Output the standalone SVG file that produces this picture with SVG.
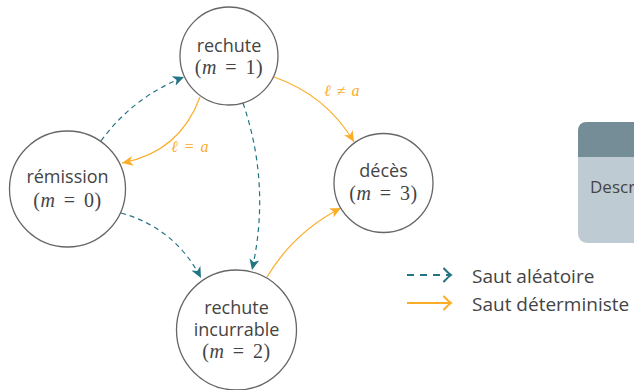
<svg xmlns="http://www.w3.org/2000/svg" width="634" height="390" viewBox="0 0 634 390">
<style>
.node circle{fill:#fff;stroke:#666;stroke-width:1.3}
.lbl{font-family:"Open Sans","Noto Sans",sans-serif;font-size:18px;fill:#444;text-anchor:middle}
.math{font-family:"Liberation Serif","DejaVu Serif",serif;font-size:20px;fill:#444;text-anchor:middle;letter-spacing:0.5px;word-spacing:3px}
.mi{font-style:italic}
.rand{fill:none;stroke:#237585;stroke-width:1.2;stroke-dasharray:5 4}
.det{fill:none;stroke:#fbad28;stroke-width:1.2}
.elbl{font-family:"Liberation Serif","DejaVu Serif",serif;font-size:16px;font-style:italic;fill:#fbad28;word-spacing:2px}
.leg{font-family:"Open Sans","Noto Sans",sans-serif;font-size:19px;fill:#444}
</style>
<defs>
<marker id="hT" markerUnits="userSpaceOnUse" markerWidth="12" markerHeight="10" refX="11" refY="5" orient="auto">
<path d="M0,0 L11,5 L0,10 L3,5 z" fill="#237585"/>
</marker>
<marker id="hO" markerUnits="userSpaceOnUse" markerWidth="12" markerHeight="10" refX="11" refY="5" orient="auto">
<path d="M0,0 L11,5 L0,10 L3,5 z" fill="#fbad28"/>
</marker>
<marker id="cT" markerUnits="userSpaceOnUse" markerWidth="10" markerHeight="16" refX="8" refY="8" orient="auto">
<path d="M1,1.5 Q5,6 8,8 Q5,10 1,14.5" fill="none" stroke="#237585" stroke-width="2" stroke-linecap="round"/>
</marker>
<marker id="cO" markerUnits="userSpaceOnUse" markerWidth="10" markerHeight="16" refX="8" refY="8" orient="auto">
<path d="M1,1.5 Q5,6 8,8 Q5,10 1,14.5" fill="none" stroke="#fbad28" stroke-width="2" stroke-linecap="round"/>
</marker>
</defs>

<g id="connectors">
<path class="rand" d="M101,141 Q133,97 184,77" marker-end="url(#hT)"/>
<path class="det" d="M200,97 Q180,152 122,163" marker-end="url(#hO)"/>
<path class="det" d="M274,77 Q326,95 354,142" marker-end="url(#hO)"/>
<path class="rand" d="M243,103 Q271,185 252,270" marker-end="url(#hT)"/>
<path class="rand" d="M121,213 Q175,228 201,278" marker-end="url(#hT)"/>
<path class="det" d="M267,277 Q294,232 341,208" marker-end="url(#hO)"/>
<text class="elbl" x="171" y="152">ℓ = a</text>
<text class="elbl" x="324" y="96">ℓ ≠ a</text>
</g>

<g id="rechute" class="node">
<circle cx="229" cy="56" r="49"/>
<text class="lbl" x="229" y="52">rechute</text>
<text class="math" x="229" y="74">(<tspan class="mi">m</tspan> = 1)</text>
</g>

<g id="remission" class="node">
<circle cx="67.5" cy="189" r="58"/>
<text class="lbl" x="67.5" y="183">rémission</text>
<text class="math" x="67.5" y="207">(<tspan class="mi">m</tspan> = 0)</text>
</g>

<g id="incurrable" class="node">
<circle cx="236.5" cy="330" r="60"/>
<text class="lbl" x="236.5" y="314">rechute</text>
<text class="lbl" x="236.5" y="336">incurrable</text>
<text class="math" x="236.5" y="358">(<tspan class="mi">m</tspan> = 2)</text>
</g>

<g id="deces" class="node">
<circle cx="383.5" cy="183" r="49.5"/>
<text class="lbl" x="383.5" y="177">décès</text>
<text class="math" x="383.5" y="200">(<tspan class="mi">m</tspan> = 3)</text>
</g>

<g id="legend">
<line x1="407" y1="275" x2="451" y2="275" stroke="#237585" stroke-width="2" stroke-dasharray="7 6" marker-end="url(#cT)"/>
<line x1="407" y1="303" x2="451" y2="303" stroke="#fbad28" stroke-width="2" marker-end="url(#cO)"/>
<text class="leg" x="472" y="283">Saut aléatoire</text>
<text class="leg" x="472" y="311">Saut déterministe</text>
</g>

<g id="descbox">
<rect x="578" y="122" width="90" height="121" rx="9" fill="#bfcbd2"/>
<path d="M578,157 V131 Q578,122 587,122 H668 V157 Z" fill="#748d96"/>
<text x="590" y="193" font-family="Open Sans, Noto Sans, sans-serif" font-size="17" fill="#444">Descr</text>
</g>
</svg>
